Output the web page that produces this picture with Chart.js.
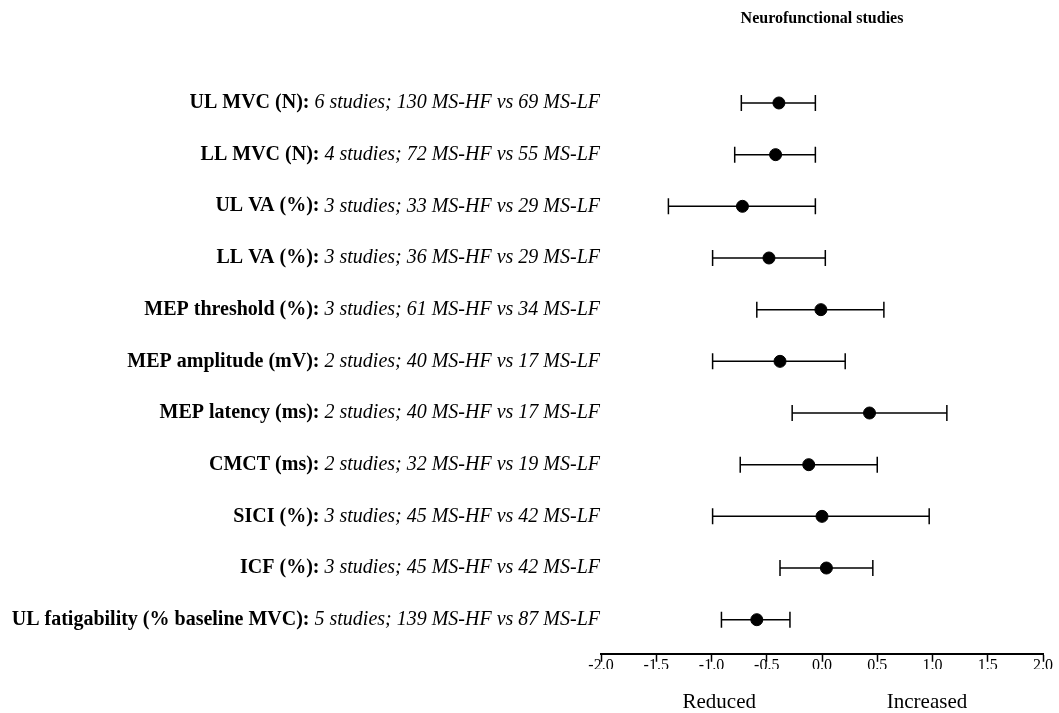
<!DOCTYPE html>
<html>
<head>
<meta charset="utf-8">
<script src="https://cdn.jsdelivr.net/npm/chart.js@4/dist/chart.umd.min.js"></script>
<style>
  body { margin: 0; background: #fff; }
</style>
</head>
<body>
<canvas id="forest" width="1059" height="713"></canvas>
<script>
// Outcome names (bold part) and study info (italic part), top to bottom
const measureNames = [
    "UL MVC (N):", "LL MVC (N):", "UL VA (%):", "LL VA (%):",
    "MEP threshold (%):", "MEP amplitude (mV):", "MEP latency (ms):",
    "CMCT (ms):", "SICI (%):", "ICF (%):", "UL fatigability (% baseline MVC):"
];
const studyInfo = [
    "6 studies; 130 MS-HF vs 69 MS-LF",
    "4 studies; 72 MS-HF vs 55 MS-LF",
    "3 studies; 33 MS-HF vs 29 MS-LF",
    "3 studies; 36 MS-HF vs 29 MS-LF",
    "3 studies; 61 MS-HF vs 34 MS-LF",
    "2 studies; 40 MS-HF vs 17 MS-LF",
    "2 studies; 40 MS-HF vs 17 MS-LF",
    "2 studies; 32 MS-HF vs 19 MS-LF",
    "3 studies; 45 MS-HF vs 42 MS-LF",
    "3 studies; 45 MS-HF vs 42 MS-LF",
    "5 studies; 139 MS-HF vs 87 MS-LF"
];

// Effect sizes with 95% CI
const estimates = [-0.39, -0.42, -0.72, -0.48, -0.01, -0.38, 0.43, -0.12, 0.00, 0.04, -0.59];
const lowerCI   = [-0.73, -0.79, -1.39, -0.99, -0.59, -0.99, -0.27, -0.74, -0.99, -0.38, -0.91];
const upperCI   = [-0.06, -0.06, -0.06, 0.03, 0.56, 0.21, 1.13, 0.50, 0.97, 0.46, -0.29];

// x axis ticks and direction labels under the axis
const xTicks = [-2.0, -1.5, -1.0, -0.5, 0.0, 0.5, 1.0, 1.5, 2.0];
const directionLabels = ["Reduced", "Increased"];
const directionValues = [-0.93, 0.95];

const serif = "'Liberation Serif', 'Times New Roman', serif";

// Draws the mixed bold/italic row labels left of the plot
const rowLabelPlugin = {
    id: "rowLabels",
    afterDraw(chart) {
        const { ctx, chartArea, scales } = chart;
        ctx.save();
        ctx.fillStyle = "#000";
        ctx.textBaseline = "middle";
        ctx.textAlign = "right";
        const right = chartArea.left - 1;
        measureNames.forEach((name, i) => {
            const y = scales.y.getPixelForValue(i);
            ctx.font = `italic 20px ${serif}`;
            const info = studyInfo[i];
            const w = ctx.measureText(info).width;
            ctx.fillText(info, right, y);
            ctx.font = `bold 20px ${serif}`;
            ctx.fillText(name + " ", right - w, y);
        });
        // Reduced / Increased under the axis
        ctx.textAlign = "center";
        ctx.font = `21px ${serif}`;
        directionLabels.forEach((label, i) => {
            ctx.fillText(label, scales.x.getPixelForValue(directionValues[i]), chartArea.bottom + 49);
        });
        ctx.restore();
    }
};

// One dataset per confidence interval so each line stays separate
const ciSets = estimates.map((_, i) => ({
    type: "scatter",
    data: [{ x: lowerCI[i], y: i }, { x: upperCI[i], y: i }],
    showLine: true,
    borderColor: "#000",
    borderWidth: 1.5,
    pointStyle: "line",
    rotation: 90,
    pointRadius: 8,
    pointBorderColor: "#000",
    pointBorderWidth: 1.5
}));

new Chart(document.getElementById("forest"), {
    type: "scatter",
    data: {
        datasets: [
            ...ciSets,
            {
                data: estimates.map((v, i) => ({ x: v, y: i })),
                pointStyle: "circle",
                pointRadius: 6,
                backgroundColor: "#000",
                borderColor: "#000"
            }
        ]
    },
    plugins: [rowLabelPlugin],
    options: {
        responsive: false,
        animation: false,
        layout: { padding: { left: 601, right: 16, top: 0, bottom: 44 } },
        plugins: {
            legend: { display: false },
            tooltip: { enabled: false },
            title: {
                display: true,
                text: "Neurofunctional studies",
                fullSize: false,
                color: "#000",
                font: { family: serif, size: 16, weight: "bold" },
                padding: { top: 9, bottom: 20 }
            }
        },
        scales: {
            x: {
                type: "linear",
                position: "bottom",
                min: -2,
                max: 2,
                afterBuildTicks: (axis) => { axis.ticks = xTicks.map(v => ({ value: v })); },
                ticks: {
                    callback: (v) => v.toFixed(1),
                    color: "#000",
                    padding: -6,
                    maxRotation: 0,
                    font: { family: serif, size: 16 }
                },
                grid: {
                    drawOnChartArea: false,
                    tickLength: 8,
                    tickColor: "#000",
                    tickWidth: 1.5
                },
                border: { color: "#000", width: 2 }
            },
            y: {
                type: "linear",
                display: false,
                reverse: true,
                min: -1.06,
                max: 10.66
            }
        }
    }
});
</script>
</body>
</html>
